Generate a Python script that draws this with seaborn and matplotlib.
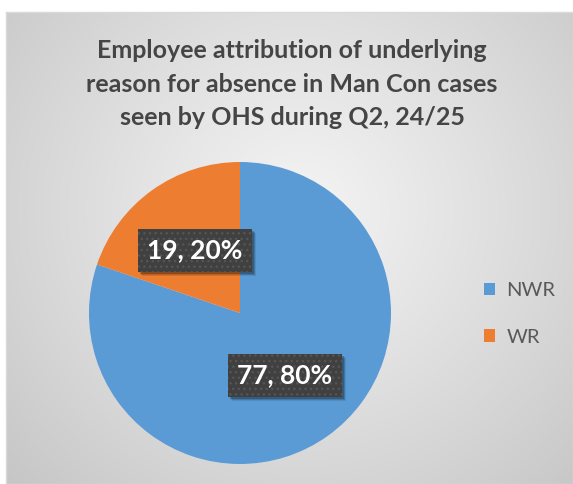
import numpy as np
import matplotlib
matplotlib.use("Agg")
import matplotlib.pyplot as plt
import seaborn as sns
from matplotlib.patches import Patch, Rectangle

categories = ["NWR", "WR"]
values = [77, 19]
title = "Employee attribution of underlying\nreason for absence in Man Con cases\nseen by OHS during Q2, 24/25"

sns.set_theme(style="white")
plt.rcParams["font.family"] = ["Lato", "DejaVu Sans"]
colors = sns.color_palette(["#5B9BD5", "#ED7D31"])

W, H = 573, 484
fig = plt.figure(figsize=(W / 100, H / 100), dpi=100)
fig.patch.set_facecolor("white")

# background radial gradient panel
bg = fig.add_axes([6 / W, 0, 1 - 6 / W, 1 - 12 / H])
yy, xx = np.mgrid[0:1:300j, 0:1:300j]
d = np.sqrt(((xx - 0.52) / 0.5) ** 2 + ((yy - 0.42) / 0.58) ** 2) / np.sqrt(2)
d = np.clip(d, 0, 1)
inner, outer = 0.955, 0.78
img = inner + (outer - inner) * d ** 1.1
bg.imshow(np.dstack([img, img, img]), extent=[0, 1, 0, 1], aspect="auto", origin="upper")
bg.set_xlim(0, 1)
bg.set_ylim(0, 1)
bg.set_xticks([]); bg.set_yticks([])
for s in bg.spines.values():
    s.set_color("#d9d9d9"); s.set_linewidth(1)

# pie axes
cx, cy, r = 240, 313, 151
ax = fig.add_axes([(cx - r) / W, (H - cy - r) / H, 2 * r / W, 2 * r / H])
ax.set_facecolor("none")
total = sum(values)

def fmt(p):
    return f"{round(p * total / 100)}, {p:.0f}%"

wedges, texts, autotexts = ax.pie(
    values, colors=colors, startangle=90, counterclock=False,
    autopct=fmt, pctdistance=0.51, radius=1,
    wedgeprops=dict(linewidth=0),
    textprops=dict(color="white", fontsize=19, fontweight="bold"),
)
box_pad = "square,pad=0.36"
for t in autotexts:
    t.set_zorder(5)
    t.set_bbox(dict(boxstyle=box_pad, facecolor="#404040",
                    edgecolor="#555555", linewidth=0, hatch="..."))
ax.set_xlim(-1, 1); ax.set_ylim(-1, 1)
ax.set_aspect("auto")
ax.axis("off")

# soft drop shadows behind the label boxes
fig.canvas.draw()
inv = ax.transData.inverted()
for t in autotexts:
    ext = t.get_bbox_patch().get_window_extent()
    for k, a in [(4, 0.10), (3, 0.15), (2, 0.22)]:
        (x0, y0), (x1, y1) = inv.transform([(ext.x0 + k, ext.y0 - k),
                                            (ext.x1 + k, ext.y1 - k)])
        ax.add_patch(Rectangle((x0, y0), x1 - x0, y1 - y0, facecolor="black",
                               alpha=a, linewidth=0, zorder=3, clip_on=False))

fig.text(292 / W, 1 - 84 / H, title, ha="center", va="center",
         fontsize=18, fontweight="bold", color="#454545", linespacing=1.55)

handles = [Patch(facecolor=c, edgecolor="none") for c in colors]
leg = fig.legend(handles, categories, loc="center left",
                 bbox_to_anchor=(466 / W, 1 - 314 / H), frameon=False,
                 fontsize=14.5, labelcolor="#595959", handlelength=0.55,
                 handleheight=0.55, handletextpad=0.55, labelspacing=1.45)

fig.savefig("out.png", dpi=100)
